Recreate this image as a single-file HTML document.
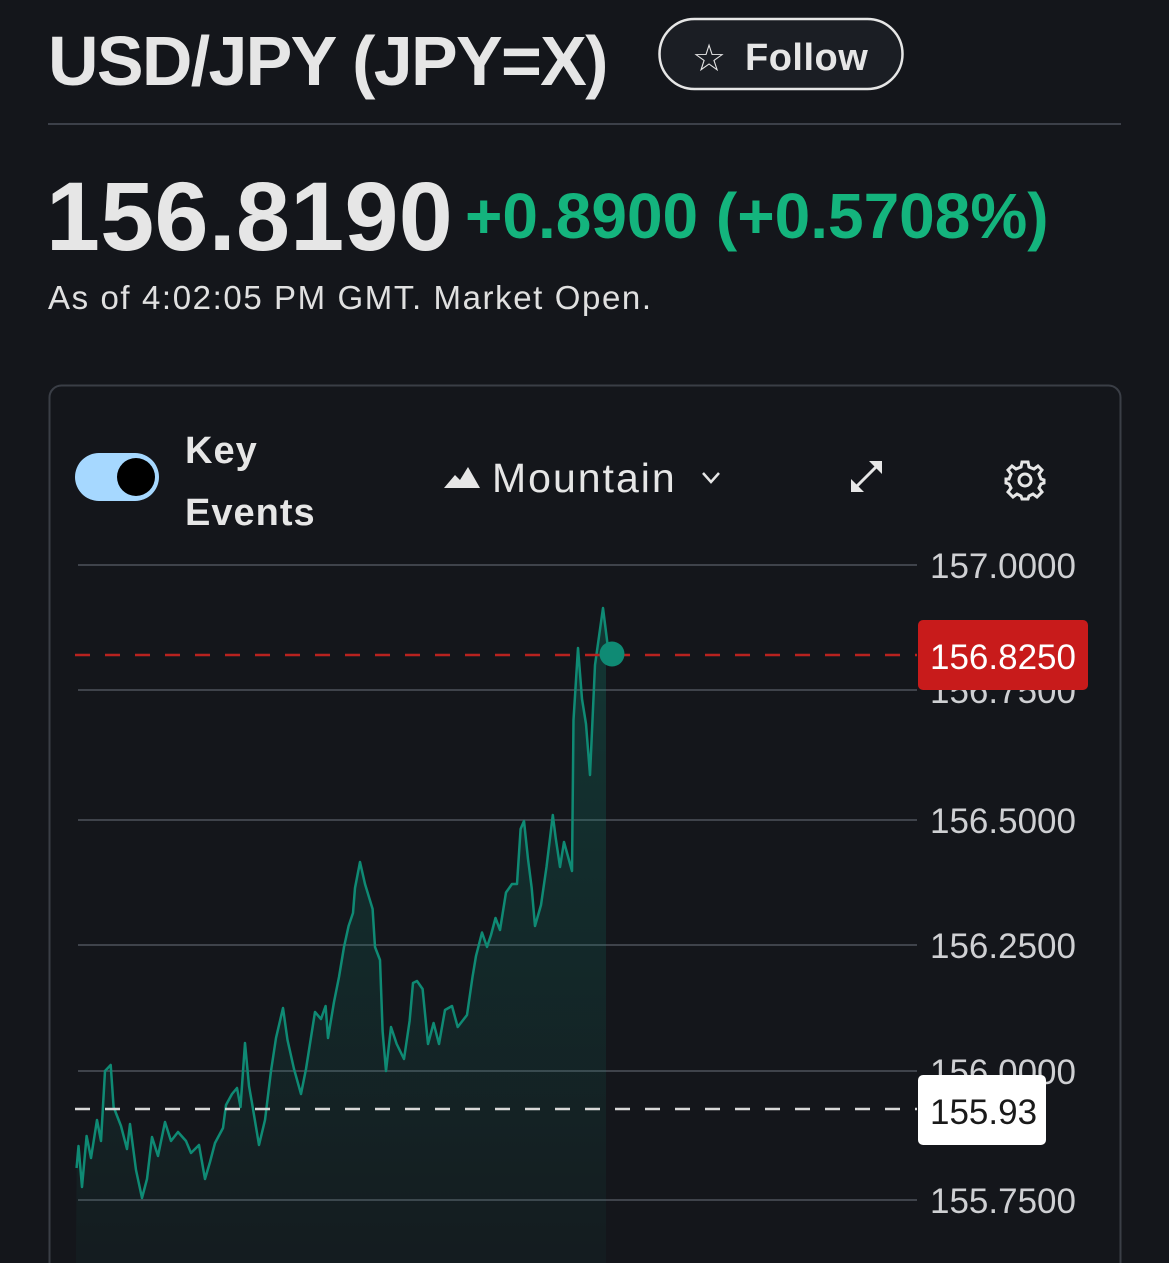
<!DOCTYPE html>
<html><head><meta charset="utf-8"><style>
html,body{margin:0;padding:0;background:#14161b;}
svg{display:block;}
text{font-family:"Liberation Sans",sans-serif;}
</style></head><body>
<svg width="1169" height="1263" viewBox="0 0 1169 1263" xmlns="http://www.w3.org/2000/svg">
<defs>
<linearGradient id="fg" x1="0" y1="0" x2="0" y2="1">
<stop offset="0" stop-color="#0f8a74" stop-opacity="0.28"/>
<stop offset="1" stop-color="#0f8a74" stop-opacity="0.05"/>
</linearGradient>
</defs>
<rect width="1169" height="1263" fill="#14161b"/>
<text x="48" y="85" font-size="70" font-weight="bold" fill="#e6e6e6" letter-spacing="-1.7">USD/JPY (JPY=X)</text>
<rect x="659.5" y="19" width="243" height="70" rx="35" fill="#1b1e24" stroke="#e6e6e6" stroke-width="2.5"/>
<text x="692" y="71" font-size="38" fill="#e6e6e6">☆</text>
<text x="745" y="70" font-size="38" font-weight="bold" fill="#e6e6e6" letter-spacing="0.5">Follow</text>
<rect x="48" y="123" width="1073" height="2" fill="#3c4049"/>
<text x="46" y="250" font-size="97" font-weight="bold" fill="#e6e6e6" letter-spacing="0.3">156.8190</text>
<text x="465" y="238" font-size="64" font-weight="bold" fill="#14b47d">+0.8900 (+0.5708%)</text>
<text x="48" y="309" font-size="33" fill="#e0e0e0" letter-spacing="1.6">As of 4:02:05 PM GMT. Market Open.</text>
<rect x="49.5" y="385.5" width="1071" height="900" rx="12" fill="#14161b" stroke="#3a3e46" stroke-width="2"/>
<rect x="75" y="453" width="84" height="48" rx="24" fill="#a6d8ff"/>
<circle cx="136" cy="477" r="19" fill="#000"/>
<text x="185" y="463" font-size="38" font-weight="bold" fill="#e6e6e6" letter-spacing="1">Key</text>
<text x="185" y="525" font-size="38" font-weight="bold" fill="#e6e6e6" letter-spacing="1">Events</text>
<polygon points="444,488 455,475 460,480 468,467 480,488" fill="#e6e6e6"/>
<text x="492" y="492" font-size="41" fill="#e6e6e6" letter-spacing="2">Mountain</text>
<polyline points="703,473 711,482 719,473" fill="none" stroke="#e6e6e6" stroke-width="2.5"/>
<g stroke="#e6e6e6" stroke-width="3" fill="#e6e6e6">
<line x1="855" y1="488" x2="878" y2="465"/>
<polygon points="882,461 882,474 869,461" stroke="none"/>
<polygon points="851,492 851,479 864,492" stroke="none"/>
</g>
<g transform="translate(1025,480)" fill="none" stroke="#e6e6e6" stroke-width="3">
<path d="M-3,-18 L3,-18 L4,-13 L9,-11 L13,-14 L17,-10 L14,-6 L16,-1 L19,0 L19,3 L16,4 L14,8 L17,12 L12,17 L8,14 L4,16 L3,19 L-3,19 L-4,16 L-8,14 L-12,17 L-17,12 L-14,8 L-16,4 L-19,3 L-19,-1 L-16,-1 L-14,-6 L-17,-10 L-13,-14 L-9,-11 L-4,-13 Z"/>
<circle cx="0" cy="0" r="6"/>
</g>
<g fill="#3f434b">
<rect x="78" y="564" width="839" height="2"/>
<rect x="78" y="689" width="839" height="2"/>
<rect x="78" y="819" width="839" height="2"/>
<rect x="78" y="944" width="839" height="2"/>
<rect x="78" y="1070" width="839" height="2"/>
<rect x="78" y="1199" width="839" height="2"/>
</g>
<g font-size="35" fill="#cfd0d3">
<text x="930" y="578">157.0000</text>
<text x="930" y="703">156.7500</text>
<text x="930" y="833">156.5000</text>
<text x="930" y="958">156.2500</text>
<text x="930" y="1084">156.0000</text>
<text x="930" y="1213">155.7500</text>
</g>
<path fill="url(#fg)" d="M76.6,1168 L78.5,1146 L82,1187 L86.6,1136 L91,1158 L97,1120 L101,1141 L105,1071 L110.7,1065 L113.6,1107 L121,1126 L127,1149 L130,1124 L136,1170 L142,1198 L147,1179 L152,1137 L158,1156 L165,1122 L171,1141 L178,1132 L186,1141 L191,1153 L199,1145 L205,1179 L210,1162 L215,1143 L223,1128 L226,1105 L232,1094 L237,1088 L240.5,1107 L245,1043 L249,1086 L252,1103 L259,1145 L265,1120 L271,1071 L276,1038 L283,1008 L287.5,1040 L294,1069 L301,1094 L306,1069 L315,1012 L321,1019 L325.6,1006 L328,1038 L334,1002 L339,977 L344,947 L348.6,926 L353,913 L355,888 L360,862 L365,884 L372.6,909 L375,947 L380,960 L382.6,1031 L386,1071 L391,1027 L396.7,1044 L404,1059 L409.6,1021 L413,983 L417,981 L422.6,989 L428,1044 L433.6,1023 L439,1044 L445,1010 L452,1006 L457.7,1027 L467,1015 L472.5,977 L476,956 L482,932.5 L487,947 L491,935 L495.5,918 L500,930 L506,892.5 L512,884 L517,884 L520.6,829 L524,821 L528,859 L531.7,888 L535,926 L541,905 L546.5,867 L552.8,815 L555.7,838 L560,867 L564,842 L572,871 L573.5,720 L578,648 L582,699 L586,724 L590,775 L595,665 L603,608 L606,640 L606,1263 L76,1263 Z"/>
<polyline fill="none" stroke="#0f8a74" stroke-width="2.5" stroke-linejoin="round" points="76.6,1168 78.5,1146 82,1187 86.6,1136 91,1158 97,1120 101,1141 105,1071 110.7,1065 113.6,1107 121,1126 127,1149 130,1124 136,1170 142,1198 147,1179 152,1137 158,1156 165,1122 171,1141 178,1132 186,1141 191,1153 199,1145 205,1179 210,1162 215,1143 223,1128 226,1105 232,1094 237,1088 240.5,1107 245,1043 249,1086 252,1103 259,1145 265,1120 271,1071 276,1038 283,1008 287.5,1040 294,1069 301,1094 306,1069 315,1012 321,1019 325.6,1006 328,1038 334,1002 339,977 344,947 348.6,926 353,913 355,888 360,862 365,884 372.6,909 375,947 380,960 382.6,1031 386,1071 391,1027 396.7,1044 404,1059 409.6,1021 413,983 417,981 422.6,989 428,1044 433.6,1023 439,1044 445,1010 452,1006 457.7,1027 467,1015 472.5,977 476,956 482,932.5 487,947 491,935 495.5,918 500,930 506,892.5 512,884 517,884 520.6,829 524,821 528,859 531.7,888 535,926 541,905 546.5,867 552.8,815 555.7,838 560,867 564,842 572,871 573.5,720 578,648 582,699 586,724 590,775 595,665 603,608 607.5,644 611,653"/>
<line x1="75" y1="655" x2="917" y2="655" stroke="#b8221f" stroke-width="2.5" stroke-dasharray="15,15"/>
<line x1="75" y1="1109" x2="917" y2="1109" stroke="#d8d8d8" stroke-width="2.5" stroke-dasharray="15,15"/>
<circle cx="612" cy="654" r="12.5" fill="#0f8a74"/>
<rect x="918" y="620" width="170" height="70" rx="5" fill="#c81b1b"/>
<text x="930" y="669" font-size="35" fill="#ffffff">156.8250</text>
<rect x="918" y="1075" width="128" height="70" rx="5" fill="#ffffff"/>
<text x="930" y="1124" font-size="35" fill="#1a1a1a">155.93</text>
</svg>
</body></html>
